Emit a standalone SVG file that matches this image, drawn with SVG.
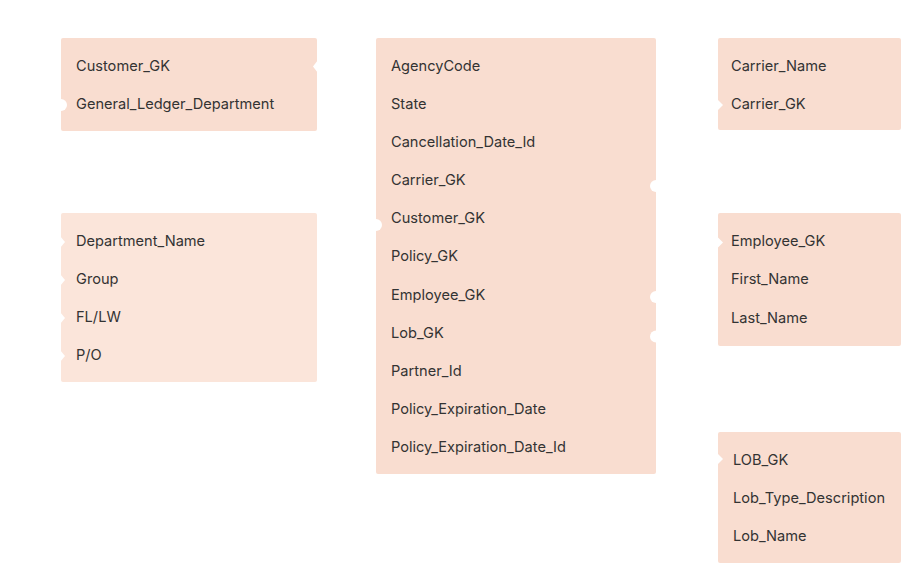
<svg xmlns="http://www.w3.org/2000/svg" width="902" height="564" viewBox="0 0 902 564">
<style>
.box{fill:#F9DDD0}
.box2{fill:#FBE5DA}
.t{font-family:Inter,"Noto Sans",sans-serif;font-size:14.6px;fill:#333333}
.n{fill:#FFFFFF}
</style>
<rect width="902" height="564" fill="#FFFFFF"/>
<g id="customer">
<rect class="box" x="61" y="38" width="256" height="93" rx="2"/>
<polygon class="n" points="318,60 313,66.5 318,73"/>
<circle class="n" cx="61" cy="105" r="6"/>
<text class="t" x="76" y="70.5">Customer_GK</text>
<text class="t" x="76" y="108.5">General_Ledger_Department</text>
</g>
<g id="department">
<rect class="box2" x="61" y="213" width="256" height="169" rx="2"/>
<polygon class="n" points="60,236 65,242 60,248"/>
<polygon class="n" points="60,274 65,280 60,286"/>
<polygon class="n" points="60,312 65,318 60,324"/>
<polygon class="n" points="60,350 65,356 60,362"/>
<text class="t" x="76" y="245.5">Department_Name</text>
<text class="t" x="76" y="283.5">Group</text>
<text class="t" x="76" y="321.5">FL/LW</text>
<text class="t" x="76" y="359.5">P/O</text>
</g>
<g id="policy">
<rect class="box" x="376" y="38" width="280" height="436" rx="2"/>
<circle class="n" cx="656" cy="186" r="6"/>
<circle class="n" cx="376" cy="225" r="6"/>
<circle class="n" cx="656" cy="297" r="6"/>
<circle class="n" cx="656" cy="336.5" r="6"/>
<text class="t" x="391" y="70.5">AgencyCode</text>
<text class="t" x="391" y="108.5">State</text>
<text class="t" x="391" y="146.5">Cancellation_Date_Id</text>
<text class="t" x="391" y="184.5">Carrier_GK</text>
<text class="t" x="391" y="223">Customer_GK</text>
<text class="t" x="391" y="261">Policy_GK</text>
<text class="t" x="391" y="299.5">Employee_GK</text>
<text class="t" x="391" y="337.5">Lob_GK</text>
<text class="t" x="391" y="375.5">Partner_Id</text>
<text class="t" x="391" y="414">Policy_Expiration_Date</text>
<text class="t" x="391" y="452">Policy_Expiration_Date_Id</text>
</g>
<g id="carrier">
<rect class="box" x="718" y="38" width="183" height="92" rx="2"/>
<polygon class="n" points="717,99 723,105 717,111"/>
<text class="t" x="731" y="70.5">Carrier_Name</text>
<text class="t" x="731" y="108.5">Carrier_GK</text>
</g>
<g id="employee">
<rect class="box" x="718" y="213" width="183" height="133" rx="2"/>
<polygon class="n" points="717,236.5 723,242.5 717,248.5"/>
<text class="t" x="731" y="245.5">Employee_GK</text>
<text class="t" x="731" y="283.5">First_Name</text>
<text class="t" x="731" y="322.5">Last_Name</text>
</g>
<g id="lob">
<rect class="box" x="718" y="432" width="183" height="131" rx="2"/>
<polygon class="n" points="717,453 723,459 717,465"/>
<text class="t" x="733" y="464.5">LOB_GK</text>
<text class="t" x="733" y="502.5">Lob_Type_Description</text>
<text class="t" x="733" y="540.5">Lob_Name</text>
</g>
<g id="connectors"></g>
</svg>
